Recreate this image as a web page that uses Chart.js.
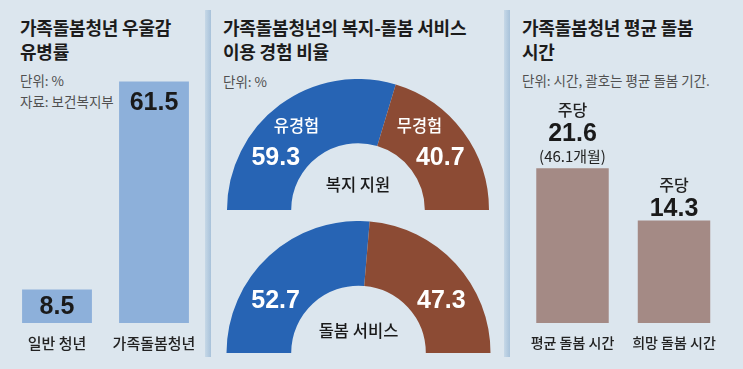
<!DOCTYPE html>
<html><head><meta charset="utf-8">
<script src="https://cdn.jsdelivr.net/npm/chart.js@4"></script>
<style>
html,body{margin:0;padding:0;}
body{width:743px;height:369px;background:#dce6ee;position:relative;overflow:hidden;font-family:'Noto Sans CJK KR','Noto Sans',sans-serif;}
.t{position:absolute;font-weight:700;font-size:18px;line-height:23.5px;color:#1c1c1c;white-space:nowrap;letter-spacing:-0.2px}
.u{position:absolute;font-size:13.5px;line-height:13.5px;color:#505050;white-space:nowrap}
.sep{position:absolute;top:10px;height:347px;width:6px;background:linear-gradient(to right,#c6d8e7,#a8c2da);}
canvas{position:absolute;}
</style></head>
<body>
<div class="sep" style="left:205px"></div>
<div class="sep" style="left:504px"></div>
<div class="t" style="left:20px;top:16px">가족돌봄청년 우울감<br>유병률</div>
<div class="u" style="left:20px;top:74px">단위: %</div>
<div class="u" style="left:20px;top:95px">자료: 보건복지부</div>
<div class="t" style="left:223px;top:16px">가족돌봄청년의 복지-돌봄 서비스<br>이용 경험 비율</div>
<div class="u" style="left:223px;top:75px">단위: %</div>
<div class="t" style="left:522px;top:16px">가족돌봄청년 평균 돌봄<br>시간</div>
<div class="u" style="left:522px;top:74px">단위: 시간, 괄호는 평균 돌봄 기간.</div>

<canvas id="c1" width="205" height="369" style="left:0;top:0"></canvas>
<canvas id="c2a" width="262" height="131" style="left:227px;top:79px"></canvas>
<canvas id="c2b" width="265" height="132" style="left:226px;top:221px"></canvas>
<canvas id="c3" width="233" height="369" style="left:510px;top:0"></canvas>

<script>
// ---- data ----
const depCats = ['일반 청년', '가족돌봄청년'];
const depVals = [8.5, 61.5];

const svcSegs = ['유경험', '무경험'];
const welfareVals = [59.3, 40.7];
const careVals = [52.7, 47.3];
const svcGroups = ['복지 지원', '돌봄 서비스'];

const timeCats = ['평균 돌봄 시간', '희망 돌봄 시간'];
const timeVals = [21.6, 14.3];
const timePrefix = ['주당', '주당'];
const timeNotes = ['(46.1개월)', ''];

const KR = "'Noto Sans CJK KR', 'Noto Sans', sans-serif";
const NUM = "'Liberation Sans', Arial, sans-serif";
const DARK = '#1a1a1a';

Chart.defaults.animation = false;
Chart.defaults.responsive = false;
Chart.defaults.devicePixelRatio = 1;

function barOpts(pad, max) {
  return {
    layout: { padding: pad },
    plugins: { legend: { display: false }, tooltip: { enabled: false } },
    scales: { x: { display: false }, y: { display: false, min: 0, max: max } }
  };
}

// Panel 1
const p1Labels = {
  id: 'p1Labels',
  afterDatasetsDraw(chart) {
    const ctx = chart.ctx;
    const meta = chart.getDatasetMeta(0);
    ctx.save();
    ctx.textAlign = 'center';
    ctx.textBaseline = 'middle';
    meta.data.forEach((el, i) => {
      const h = el.base - el.y;
      const y = Math.min(el.y + 22, el.y + h / 2 + 1);
      ctx.fillStyle = DARK;
      ctx.font = 'bold 25px ' + NUM;
      ctx.fillText(String(depVals[i]), el.x, y);
      ctx.font = '500 15px ' + KR;
      ctx.fillStyle = '#222';
      ctx.fillText(depCats[i], el.x, el.base + 20);
    });
    ctx.restore();
  }
};
new Chart(document.getElementById('c1'), {
  type: 'bar',
  data: { labels: depCats, datasets: [{ data: depVals, backgroundColor: '#8db0da', borderWidth: 0, categoryPercentage: 1, barPercentage: 0.72 }] },
  options: barOpts({ left: 8.5, right: 2.5, top: 48, bottom: 46 }, 70),
  plugins: [p1Labels]
});

// Panel 2
function donutLabels(group, showWords, centerOff) {
  return {
    id: 'dl',
    afterDatasetsDraw(chart) {
      const ctx = chart.ctx;
      const meta = chart.getDatasetMeta(0);
      const vals = chart.data.datasets[0].data;
      ctx.save();
      ctx.textAlign = 'center';
      ctx.textBaseline = 'middle';
      meta.data.forEach((el, i) => {
        const ri = el.innerRadius, ro = el.outerRadius;
        const side = i === 0 ? -1 : 1;
        const aNum = 32 * Math.PI / 180;
        const rNum = ri + (ro - ri) * 0.47;
        ctx.fillStyle = '#fff';
        ctx.font = 'bold 25px ' + NUM;
        ctx.fillText(vals[i].toFixed(1), el.x + side * rNum * Math.cos(aNum), el.y - rNum * Math.sin(aNum));
        if (showWords) {
          const aW = 54 * Math.PI / 180;
          const rW = ri + (ro - ri) * 0.59;
          ctx.font = '500 16.5px ' + KR;
          ctx.fillText(chart.data.labels[i], el.x + side * rW * Math.cos(aW), el.y - rW * Math.sin(aW));
        }
      });
      const el0 = meta.data[0];
      ctx.fillStyle = DARK;
      ctx.font = '500 16.5px ' + KR;
      ctx.fillText(group, el0.x, el0.y - centerOff);
      ctx.restore();
    }
  };
}
function donut(id, vals, group, showWords, off) {
  new Chart(document.getElementById(id), {
    type: 'doughnut',
    data: { labels: svcSegs, datasets: [{ data: vals, backgroundColor: ['#2764b4', '#8c4b34'], borderWidth: 0 }] },
    options: {
      rotation: -90, circumference: 180, cutout: '51%',
      layout: { padding: 0 },
      plugins: { legend: { display: false }, tooltip: { enabled: false } }
    },
    plugins: [donutLabels(group, showWords, off)]
  });
}
donut('c2a', welfareVals, svcGroups[0], true, 25);
donut('c2b', careVals, svcGroups[1], false, 22);

// Panel 3
const p3Labels = {
  id: 'p3Labels',
  afterDatasetsDraw(chart) {
    const ctx = chart.ctx;
    const meta = chart.getDatasetMeta(0);
    ctx.save();
    ctx.textAlign = 'center';
    ctx.textBaseline = 'middle';
    meta.data.forEach((el, i) => {
      const hasNote = !!timeNotes[i];
      const base = hasNote ? el.y - 12 : el.y + 10;
      if (hasNote) {
        ctx.fillStyle = '#222';
        ctx.font = '15px ' + KR;
        ctx.fillText(timeNotes[i], el.x, base);
      }
      ctx.fillStyle = DARK;
      ctx.font = 'bold 25px ' + NUM;
      ctx.fillText(timeVals[i].toFixed(1), el.x, base - 22);
      ctx.fillStyle = '#222';
      ctx.font = '500 16px ' + KR;
      ctx.fillText(timePrefix[i], el.x, base - 46);
      ctx.font = '500 14px ' + KR;
      ctx.fillText(timeCats[i], el.x, el.base + 20);
    });
    ctx.restore();
  }
};
new Chart(document.getElementById('c3'), {
  type: 'bar',
  data: { labels: timeCats, datasets: [{ data: timeVals, backgroundColor: '#a48a85', borderWidth: 0, categoryPercentage: 1, barPercentage: 0.714 }] },
  options: barOpts({ left: 11.75, right: 18.25, top: 108.2, bottom: 46 }, 30),
  plugins: [p3Labels]
});
</script>
</body></html>
